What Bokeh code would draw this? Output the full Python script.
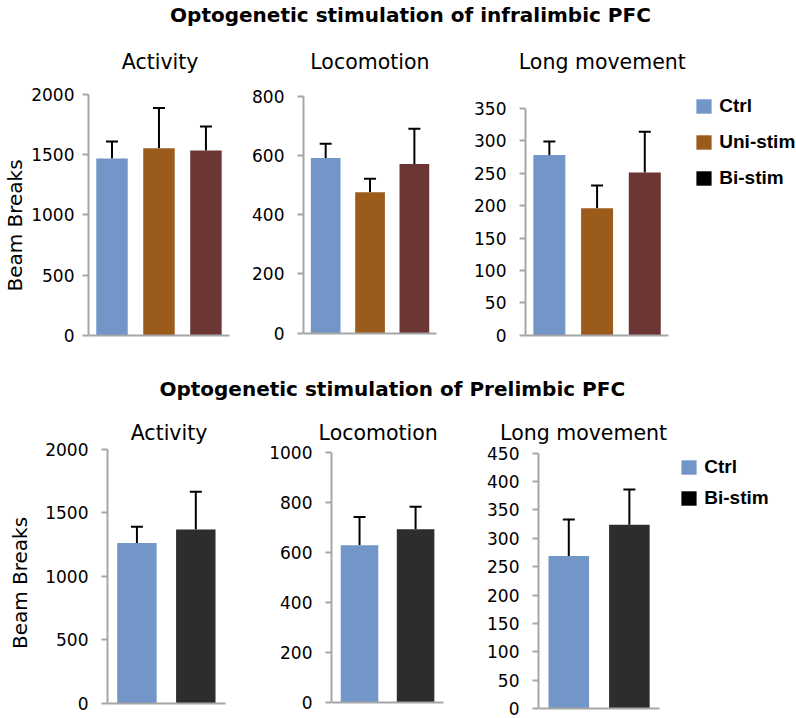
from bokeh.plotting import figure
from bokeh.models import (Range1d, FixedTicker, Whisker, TeeHead, ColumnDataSource,
                          Legend, LegendItem, LinearAxis, Spacer)
from bokeh.layouts import column, row
from bokeh.embed import file_html
from bokeh.resources import INLINE
from bokeh.core.properties import value

# ---------------- data ----------------
headline_top = "Optogenetic stimulation of infralimbic PFC"
headline_bottom = "Optogenetic stimulation of Prelimbic PFC"
measures = ["Activity", "Locomotion", "Long movement"]
y_label = "Beam Breaks"

groups_top = ["Ctrl", "Uni-stim", "Bi-stim"]
groups_bottom = ["Ctrl", "Bi-stim"]

# infralimbic (top row): means and upward error bars
top_activity_mean = [1467, 1553, 1533]
top_activity_err = [141, 333, 200]
top_locomotion_mean = [592, 476, 572]
top_locomotion_err = [48, 46, 119]
top_long_mean = [278, 196, 251]
top_long_err = [21, 35, 63]

# prelimbic (bottom row)
bottom_activity_mean = [1263, 1368]
bottom_activity_err = [127, 298]
bottom_locomotion_mean = [628, 692]
bottom_locomotion_err = [113, 90]
bottom_long_mean = [269, 324]
bottom_long_err = [64, 62]

# y axis: (max, tick step)
top_axes = [(2000, 500), (800, 200), (350, 50)]
bottom_axes = [(2000, 500), (1000, 200), (450, 50)]

# ---------------- style ----------------
bar_colors_top = ["#7396C8", "#9A5B1B", "#6B3634"]
bar_colors_bottom = ["#7396C8", "#2D2D2D"]
legend_colors_top = ["#7396C8", "#9A5B1B", "#000000"]
legend_colors_bottom = ["#7396C8", "#000000"]
AXIS_GRAY = "#A6A6A6"
FONT = "DejaVu Sans"
BAR_W = 0.67
TITLE_H = 27.3          # Bokeh title panel height (without standoff) for 20.5px text
ITEM_H = 22             # legend row height


def panel(title, groups, means, errs, colors, ymax, step, geo, legend=None):
    """geo: pixel layout of the panel (page coordinates)."""
    fig_left, fig_right = geo["fig_x"]
    y_top, y_bot = geo["fig_y"]
    frame_l = fig_left + geo["lborder"]
    frame_t = y_top + TITLE_H + geo["t_standoff"]
    axis_end = geo["axis_end"]
    p_top, p_zero = geo["ymap"]
    n = len(groups)

    scale = (p_zero - p_top) / ymax               # px per unit
    ys = -(y_bot - p_zero) / scale
    ye = ymax + (p_top - frame_t) / scale
    slot = (axis_end - frame_l) / n               # px per category
    xe = (fig_right - frame_l) / slot

    p = figure(width=fig_right - fig_left, height=y_bot - y_top,
               x_range=Range1d(0, xe), y_range=Range1d(ys, ye),
               output_backend="svg", toolbar_location=None, title=title,
               x_axis_location=None, y_axis_location="left",
               min_border_left=0, min_border_right=0, min_border_top=0,
               min_border_bottom=0)
    p.grid.visible = False
    p.outline_line_color = None
    p.background_fill_color = "white"
    p.border_fill_color = "white"

    p.title.align = "left"
    p.title.offset = geo["t_left"] - frame_l
    p.title.standoff = geo["t_standoff"]
    p.title.text_font = FONT
    p.title.text_font_size = "20.5px"
    p.title.text_font_style = "normal"
    p.title.text_color = "black"

    xs = [i + 0.5 for i in range(n)]
    upper = [m + e for m, e in zip(means, errs)]
    src = ColumnDataSource(dict(x=xs, m=means, u=upper, c=colors))
    p.vbar(x="x", top="m", width=BAR_W, fill_color="c", line_color=None, source=src)
    p.add_layout(Whisker(base="x", lower="m", upper="u", source=src, dimension="height",
                         line_color="black", line_width=2,
                         upper_head=TeeHead(size=12, line_color="black", line_width=2),
                         lower_head=None))

    # category axis line at y = 0, no ticks / labels
    xa = LinearAxis(fixed_location=0, bounds=(0, n), ticker=FixedTicker(ticks=[]),
                    axis_line_color=AXIS_GRAY, axis_line_width=2,
                    major_tick_line_color=None, minor_tick_line_color=None,
                    major_tick_out=0, major_label_standoff=0)
    p.add_layout(xa, "below")

    ya = p.yaxis[0]
    ya.bounds = (0, ymax)
    ya.ticker = FixedTicker(ticks=list(range(0, ymax + 1, step)))
    ya.major_tick_out = 6
    ya.major_tick_in = 0
    ya.major_tick_line_color = AXIS_GRAY
    ya.major_tick_line_width = 2
    ya.minor_tick_line_color = None
    ya.axis_line_color = AXIS_GRAY
    ya.axis_line_width = 2
    ya.major_label_text_font = FONT
    ya.major_label_text_font_size = "17px"
    ya.major_label_text_color = "black"
    ya.major_label_standoff = geo["standoff"]
    if geo.get("ylabel"):
        ya.axis_label = geo["ylabel"]
        ya.axis_label_text_font = FONT
        ya.axis_label_text_font_size = "20px"
        ya.axis_label_text_font_style = "normal"
        ya.axis_label_text_color = "black"
        ya.axis_label_standoff = geo["ylab_standoff"]

    if legend is not None:
        lgroups, lcolors, (lx, ltop), lspacing = legend
        items = []
        for g, c in zip(lgroups, lcolors):
            proxy = p.vbar(x=[xs[0]], top=[0], width=0, fill_color=c, line_color=None)
            items.append(LegendItem(label=value(g), renderers=[proxy]))
        lh = len(items) * ITEM_H + (len(items) - 1) * lspacing
        lg = Legend(items=items, location=(lx - frame_l, y_bot - (ltop + lh)),
                    glyph_width=19, glyph_height=18, label_height=ITEM_H, label_width=10,
                    spacing=lspacing, padding=0, margin=0, label_standoff=6,
                    border_line_color=None, background_fill_alpha=0,
                    label_text_font="Liberation Sans", label_text_font_style="bold",
                    label_text_font_size="19px", label_text_color="black")
        p.add_layout(lg)
    return p


def head_fig(width, height, text, left_px):
    hf = figure(width=width, height=height, x_range=Range1d(0, 1), y_range=Range1d(0, 1),
                output_backend="svg", toolbar_location=None, title=text,
                min_border=0, x_axis_location=None, y_axis_location=None)
    hf.grid.visible = False
    hf.outline_line_color = None
    hf.title.align = "left"
    hf.title.offset = left_px
    hf.title.standoff = 0
    hf.title.text_font = FONT
    hf.title.text_font_style = "bold"
    hf.title.text_font_size = "20px"
    hf.title.text_color = "black"
    return hf


# ---------------- geometry (page pixels) ----------------
W = 796
R1Y = (44, 374)
R2Y = (415, 718)
B1_PAD = 5

g_t1 = dict(fig_x=(0, 249), fig_y=R1Y, lborder=88.5, axis_end=229, ymap=(95, 335),
            standoff=8, ylabel=y_label, ylab_standoff=1, t_left=121.8, t_standoff=6)
g_t2 = dict(fig_x=(249, 471), fig_y=R1Y, lborder=53.7, axis_end=436, ymap=(97.3, 332.7),
            standoff=13, t_left=309.5, t_standoff=6)
g_t3 = dict(fig_x=(471, W), fig_y=R1Y, lborder=53.7, axis_end=668, ymap=(109, 335),
            standoff=13, t_left=518, t_standoff=6)

g_b1 = dict(fig_x=(B1_PAD, 266), fig_y=R2Y, lborder=103, axis_end=225, ymap=(450, 703),
            standoff=13, ylabel=y_label, ylab_standoff=10, t_left=131.2, t_standoff=6)
g_b2 = dict(fig_x=(266, 484), fig_y=R2Y, lborder=64.6, axis_end=443, ymap=(453, 702),
            standoff=13, t_left=317.7, t_standoff=6)
g_b3 = dict(fig_x=(484, W), fig_y=R2Y, lborder=53.7, axis_end=659, ymap=(454, 708),
            standoff=13, t_left=499.3, t_standoff=6)

# ---------------- figures ----------------
head1 = head_fig(W, R1Y[0], headline_top, 169.6)
t1 = panel(measures[0], groups_top, top_activity_mean, top_activity_err, bar_colors_top,
           top_axes[0][0], top_axes[0][1], g_t1)
t2 = panel(measures[1], groups_top, top_locomotion_mean, top_locomotion_err, bar_colors_top,
           top_axes[1][0], top_axes[1][1], g_t2)
t3 = panel(measures[2], groups_top, top_long_mean, top_long_err, bar_colors_top,
           top_axes[2][0], top_axes[2][1], g_t3,
           legend=(groups_top, legend_colors_top, (694, 95), 14))

head2 = head_fig(W, R2Y[0] - R1Y[1], headline_bottom, 158.9)
b1 = panel(measures[0], groups_bottom, bottom_activity_mean, bottom_activity_err,
           bar_colors_bottom, bottom_axes[0][0], bottom_axes[0][1], g_b1)
b2 = panel(measures[1], groups_bottom, bottom_locomotion_mean, bottom_locomotion_err,
           bar_colors_bottom, bottom_axes[1][0], bottom_axes[1][1], g_b2)
b3 = panel(measures[2], groups_bottom, bottom_long_mean, bottom_long_err,
           bar_colors_bottom, bottom_axes[2][0], bottom_axes[2][1], g_b3,
           legend=(groups_bottom, legend_colors_bottom, (679, 456), 9))

layout = column(head1, row(t1, t2, t3), head2,
                row(Spacer(width=B1_PAD, height=R2Y[1] - R2Y[0]), b1, b2, b3))

open("out.html", "w").write(file_html(layout, INLINE))
